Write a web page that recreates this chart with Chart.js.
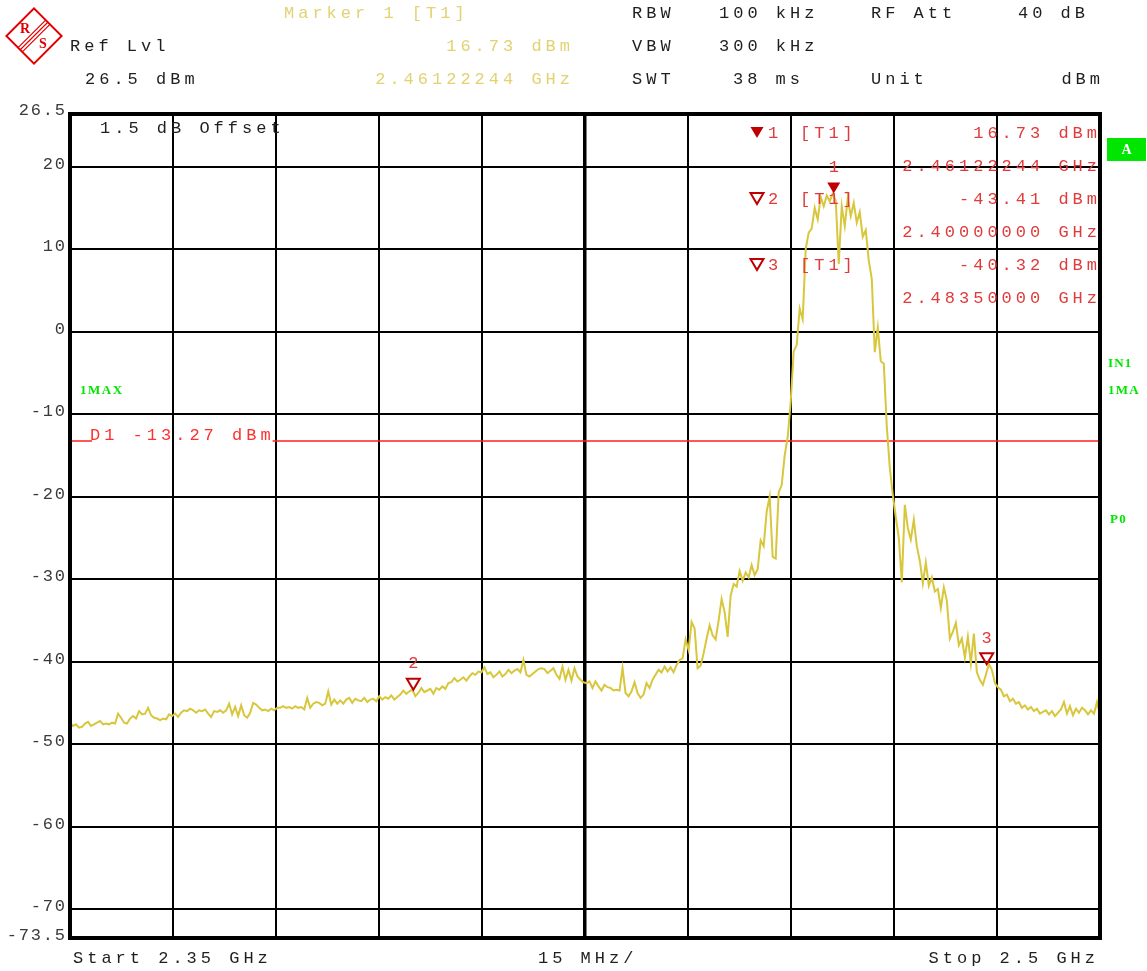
<!DOCTYPE html>
<html><head><meta charset="utf-8">
<script src="https://cdn.jsdelivr.net/npm/chart.js@4.4.1/dist/chart.umd.min.js"></script>
<style>html,body{margin:0;padding:0;background:#fff;overflow:hidden}#wrap{position:relative;width:1147px;height:971px}</style>
</head><body><div id="wrap"><canvas id="c" width="1147" height="971"></canvas></div>
<script>
// ---------- data ----------
const startGHz = 2.35, stopGHz = 2.5;
const levelsDbm = [
-47.4,-47.8,-47.6,-48.0,-47.9,-47.5,-47.3,-47.8,-47.6,-47.4,
-47.2,-47.6,-47.5,-47.6,-47.4,-47.5,-46.3,-46.8,-47.4,-47.5,
-46.9,-46.6,-46.9,-46.0,-46.4,-46.3,-45.6,-46.5,-46.8,-46.9,
-47.1,-46.9,-47.0,-46.4,-46.6,-46.3,-46.7,-46.2,-45.9,-46.0,
-45.7,-45.9,-46.2,-45.9,-46.0,-45.8,-46.3,-46.7,-46.0,-46.1,
-45.9,-46.2,-45.9,-45.1,-46.4,-45.5,-46.6,-45.3,-46.5,-46.8,
-46.2,-45.0,-45.2,-45.6,-45.9,-45.8,-46.0,-45.7,-45.9,-45.6,
-45.6,-45.4,-45.6,-45.5,-45.7,-45.4,-45.6,-45.5,-45.8,-44.4,
-45.6,-45.1,-44.9,-45.0,-45.3,-45.1,-43.6,-45.2,-44.6,-45.1,
-44.7,-45.1,-44.6,-44.4,-45.0,-44.5,-44.7,-44.8,-44.4,-44.9,
-44.6,-44.5,-44.8,-44.2,-44.6,-44.3,-44.5,-44.1,-44.6,-44.3,
-44.0,-43.5,-43.9,-43.6,-43.4,-44.2,-43.8,-43.2,-43.7,-43.5,
-43.3,-43.9,-43.2,-43.4,-43.0,-43.3,-42.6,-42.5,-42.0,-42.4,
-42.2,-41.9,-42.3,-41.8,-41.4,-41.6,-41.2,-41.3,-40.7,-41.5,
-41.3,-41.9,-41.6,-41.2,-41.8,-41.5,-41.0,-41.4,-41.1,-40.9,
-41.3,-39.8,-41.6,-41.8,-41.5,-41.2,-40.9,-40.8,-40.9,-41.4,
-41.1,-40.8,-41.6,-42.1,-40.6,-42.2,-41.0,-42.3,-40.8,-41.8,
-42.2,-42.5,-42.6,-42.4,-43.2,-42.4,-43.0,-43.5,-42.8,-43.1,
-43.2,-43.5,-43.4,-43.5,-40.8,-43.8,-44.2,-43.6,-42.5,-43.8,
-44.4,-44.0,-42.6,-43.2,-42.2,-41.6,-41.0,-41.3,-40.6,-41.2,
-40.7,-41.3,-40.4,-39.8,-39.6,-37.3,-38.6,-35.2,-36.0,-40.8,
-40.5,-39.0,-37.2,-35.6,-36.8,-37.3,-35.0,-32.4,-34.0,-37.0,
-32.0,-30.6,-30.9,-29.0,-30.2,-29.2,-29.8,-28.3,-29.5,-28.8,
-25.3,-26.0,-21.8,-20.0,-27.3,-27.5,-19.5,-18.6,-15.0,-12.8,
-8.5,-2.4,-1.6,2.8,1.5,10.0,12.0,12.5,15.0,13.6,
16.3,15.2,16.5,15.8,16.73,15.9,8.2,15.2,12.8,16.2,
14.0,15.6,13.2,14.5,11.5,12.3,8.6,6.4,-2.5,0.5,
-3.6,-3.9,-11.5,-16.5,-19.8,-22.5,-25.0,-30.4,-21.0,-23.8,
-25.2,-22.8,-26.0,-27.8,-30.5,-28.0,-30.8,-29.8,-31.5,-31.2,
-33.5,-31.0,-32.6,-37.2,-36.4,-35.3,-38.0,-37.2,-39.5,-37.0,
-40.2,-36.6,-41.3,-42.2,-42.8,-41.6,-40.3,-41.0,-42.6,-43.1,
-43.4,-44.2,-44.0,-44.8,-44.5,-45.1,-44.9,-45.6,-45.3,-45.8,
-45.5,-46.0,-45.7,-46.3,-46.1,-45.9,-46.4,-46.0,-46.6,-46.2,
-45.8,-44.9,-46.3,-45.4,-46.5,-45.7,-46.2,-45.6,-45.9,-46.4,
-45.9,-46.3,-44.9,-46.6
];
const refLevelDbm = 26.5, bottomLevelDbm = -73.5;
const yGridDbm = [20,10,0,-10,-20,-30,-40,-50,-60,-70];
const yTickValues = [26.5,20,10,0,-10,-20,-30,-40,-50,-60,-70,-73.5];
const yTickLabels = ['26.5','20','10','0','-10','-20','-30','-40','-50','-60','-70','-73.5'];
const xGridGHz = [2.365,2.38,2.395,2.41,2.425,2.44,2.455,2.47,2.485];
const markerNames = ['1','2','3'];
const markerFreqGHz = [2.46122244, 2.40000000, 2.48350000];
const markerLevelDbm = [16.73, -43.41, -40.32];
const markerFilled = [true, false, false];
const markerLevelText = ['16.73 dBm','-43.41 dBm','-40.32 dBm'];
const markerFreqText = ['2.46122244 GHz','2.40000000 GHz','2.48350000 GHz'];
const displayLineDbm = -13.27;
const displayLineText = 'D1 -13.27 dBm';

// ---------- styles ----------
const TRACE = '#d8c73c';
const HDR_YEL = '#e2d272';
const TXT = '#1e1e1e';
const RED_TXT = '#e03a3a';
const RED_MK = '#c00000';
const GREEN = '#00e600';
const MONO = '17px "Liberation Mono", "DejaVu Sans Mono", monospace';
const SP = 4.0;

function txt(ctx, s, x, y, color, opt) {
  opt = opt || {};
  const font = opt.font || MONO, sp = (opt.sp !== undefined) ? opt.sp : SP;
  ctx.save();
  ctx.font = font; ctx.fillStyle = color;
  ctx.textBaseline = opt.baseline || 'middle';
  ctx.textAlign = 'left';
  let sx = x;
  if ('letterSpacing' in ctx) {
    ctx.letterSpacing = sp + 'px';
    const w = ctx.measureText(s).width - sp;
    if (opt.align === 'right') sx = x - w;
    else if (opt.align === 'center') sx = x - w / 2;
    ctx.fillText(s, sx, y);
  } else {
    const cw = ctx.measureText('0').width + sp;
    const w = cw * s.length - sp;
    if (opt.align === 'right') sx = x - w;
    else if (opt.align === 'center') sx = x - w / 2;
    for (let i = 0; i < s.length; i++) ctx.fillText(s[i], sx + i * cw, y);
  }
  ctx.restore();
}
function textWidth(ctx, s, opt) {
  opt = opt || {};
  const sp = (opt.sp !== undefined) ? opt.sp : SP;
  ctx.save(); ctx.font = opt.font || MONO;
  let w;
  if ('letterSpacing' in ctx) { ctx.letterSpacing = sp + 'px'; w = ctx.measureText(s).width - sp; }
  else { w = (ctx.measureText('0').width + sp) * s.length - sp; }
  ctx.restore();
  return w;
}
function tri(ctx, cx, tipY, filled) {
  ctx.save();
  ctx.beginPath();
  ctx.moveTo(cx - 6.5, tipY - 11);
  ctx.lineTo(cx + 6.5, tipY - 11);
  ctx.lineTo(cx, tipY);
  ctx.closePath();
  if (filled) { ctx.fillStyle = RED_MK; ctx.fill(); }
  else { ctx.strokeStyle = RED_MK; ctx.lineWidth = 2; ctx.lineJoin = 'miter'; ctx.stroke(); }
  ctx.restore();
}

const N = levelsDbm.length;
const sweepPoints = levelsDbm.map((v, i) => ({ x: startGHz + i * (stopGHz - startGHz) / (N - 1), y: v }));

const fsvPlugin = {
  id: 'fsv',
  beforeDatasetsDraw(chart) {
    const ctx = chart.ctx, a = chart.chartArea, y = chart.scales.y.getPixelForValue(displayLineDbm);
    const tx = 90, tw = textWidth(ctx, displayLineText);
    ctx.save();
    ctx.strokeStyle = '#ff2020'; ctx.lineWidth = 1.5;
    ctx.beginPath();
    ctx.moveTo(a.left, y); ctx.lineTo(tx + 2, y);
    ctx.moveTo(tx + tw + 2, y); ctx.lineTo(a.right, y);
    ctx.stroke();
    ctx.restore();
  },
  afterDatasetsDraw(chart) {
    const ctx = chart.ctx, a = chart.chartArea, xs = chart.scales.x, ys = chart.scales.y;
    // frame
    ctx.save();
    ctx.strokeStyle = '#000'; ctx.lineWidth = 4;
    ctx.strokeRect(a.left, a.top + 1, a.right - a.left, a.bottom - a.top - 1);
    ctx.restore();
    // markers on trace
    for (let k = 0; k < markerNames.length; k++) {
      const px = xs.getPixelForValue(markerFreqGHz[k]);
      const py = ys.getPixelForValue(markerLevelDbm[k]);
      tri(ctx, px, py, markerFilled[k]);
      txt(ctx, markerNames[k], px, py - 26, RED_TXT, { align: 'center' });
    }
    // marker table
    const rows = [133, 199, 265];
    for (let k = 0; k < markerNames.length; k++) {
      const ry = rows[k];
      tri(ctx, 757, ry + 5, markerFilled[k]);
      txt(ctx, markerNames[k], 768, ry, RED_TXT);
      txt(ctx, '[T1]', 800, ry, RED_TXT);
      txt(ctx, markerLevelText[k], 1097, ry, RED_TXT, { align: 'right' });
      txt(ctx, markerFreqText[k], 1097, ry + 33, RED_TXT, { align: 'right' });
    }
    // in-plot labels
    txt(ctx, '1.5 dB Offset', 100, 128, TXT);
    txt(ctx, displayLineText, 90, 435, '#ff3030');
    txt(ctx, '1MAX', 80, 391, GREEN, { font: 'bold 13px "Liberation Serif", serif', sp: 1.5 });
  },
  afterDraw(chart) {
    const ctx = chart.ctx, ys = chart.scales.y;
    // y tick labels
    for (let k = 0; k < yTickValues.length; k++) {
      const py = ys.getPixelForValue(yTickValues[k]);
      txt(ctx, yTickLabels[k], 65, py + 2, '#3a3a3a', { sp: 1.8, align: 'right', baseline: 'alphabetic' });
    }
    // header
    txt(ctx, 'Marker 1 [T1]', 284, 13, HDR_YEL);
    txt(ctx, 'Ref Lvl', 70, 46, TXT);
    txt(ctx, markerLevelText[0], 570, 46, HDR_YEL, { align: 'right' });
    txt(ctx, '26.5 dBm', 85, 79, TXT);
    txt(ctx, markerFreqText[0], 570, 79, HDR_YEL, { align: 'right' });
    txt(ctx, 'RBW', 632, 13, TXT); txt(ctx, '100 kHz', 719, 13, TXT);
    txt(ctx, 'RF Att', 871, 13, TXT); txt(ctx, '40 dB', 1085, 13, TXT, { align: 'right' });
    txt(ctx, 'VBW', 632, 46, TXT); txt(ctx, '300 kHz', 719, 46, TXT);
    txt(ctx, 'SWT', 632, 79, TXT); txt(ctx, '38 ms', 733, 79, TXT);
    txt(ctx, 'Unit', 871, 79, TXT); txt(ctx, 'dBm', 1100, 79, TXT, { align: 'right' });
    // bottom
    txt(ctx, 'Start 2.35 GHz', 73, 958, TXT);
    txt(ctx, '15 MHz/', 538, 958, TXT);
    txt(ctx, 'Stop 2.5 GHz', 1095, 958, TXT, { align: 'right' });
    // right side status
    ctx.save(); ctx.fillStyle = GREEN; ctx.fillRect(1107, 138, 39, 23); ctx.restore();
    txt(ctx, 'A', 1126.5, 150, '#ffffff', { font: 'bold 14px "Liberation Serif", serif', sp: 0, align: 'center' });
    const gf = { font: 'bold 13px "Liberation Serif", serif', sp: 1.2 };
    txt(ctx, 'IN1', 1108, 364, GREEN, gf);
    txt(ctx, '1MA', 1108, 391, GREEN, gf);
    txt(ctx, 'P0', 1110, 520, GREEN, gf);
    // logo
    ctx.save();
    ctx.translate(34, 36); ctx.rotate(Math.PI / 4);
    ctx.strokeStyle = '#e00000'; ctx.lineWidth = 2;
    ctx.strokeRect(-19.5, -19.5, 39, 39);
    ctx.beginPath();
    ctx.moveTo(-3, -19.5); ctx.lineTo(-3, 19.5);
    ctx.moveTo(0, -19.5); ctx.lineTo(0, 19.5);
    ctx.moveTo(3, -19.5); ctx.lineTo(3, 19.5);
    ctx.lineWidth = 1.2; ctx.stroke();
    ctx.restore();
    txt(ctx, 'R', 25, 29, '#e00000', { font: 'bold 14px "Liberation Serif", serif', sp: 0, align: 'center' });
    txt(ctx, 'S', 43, 44, '#e00000', { font: 'bold 14px "Liberation Serif", serif', sp: 0, align: 'center' });
  }
};

new Chart(document.getElementById('c'), {
  type: 'line',
  data: { datasets: [{ data: sweepPoints, borderColor: TRACE, borderWidth: 2, pointRadius: 0, tension: 0, fill: false }] },
  options: {
    responsive: false, animation: false, devicePixelRatio: 1,
    layout: { padding: { left: 70, top: 113, right: 47, bottom: 33 } },
    plugins: { legend: { display: false }, tooltip: { enabled: false } },
    scales: {
      x: {
        type: 'linear', min: startGHz, max: stopGHz,
        afterBuildTicks: (ax) => { ax.ticks = xGridGHz.map(v => ({ value: v })); },
        ticks: { display: false },
        grid: { color: '#000', lineWidth: (c) => (c.index === 4 ? 3.5 : 2), drawTicks: false },
        border: { display: false }
      },
      y: {
        type: 'linear', min: bottomLevelDbm, max: refLevelDbm,
        afterBuildTicks: (ax) => { ax.ticks = yGridDbm.map(v => ({ value: v })); },
        ticks: { display: false },
        grid: { color: '#000', lineWidth: 2, drawTicks: false },
        border: { display: false }
      }
    }
  },
  plugins: [fsvPlugin]
});
</script>
</body></html>
